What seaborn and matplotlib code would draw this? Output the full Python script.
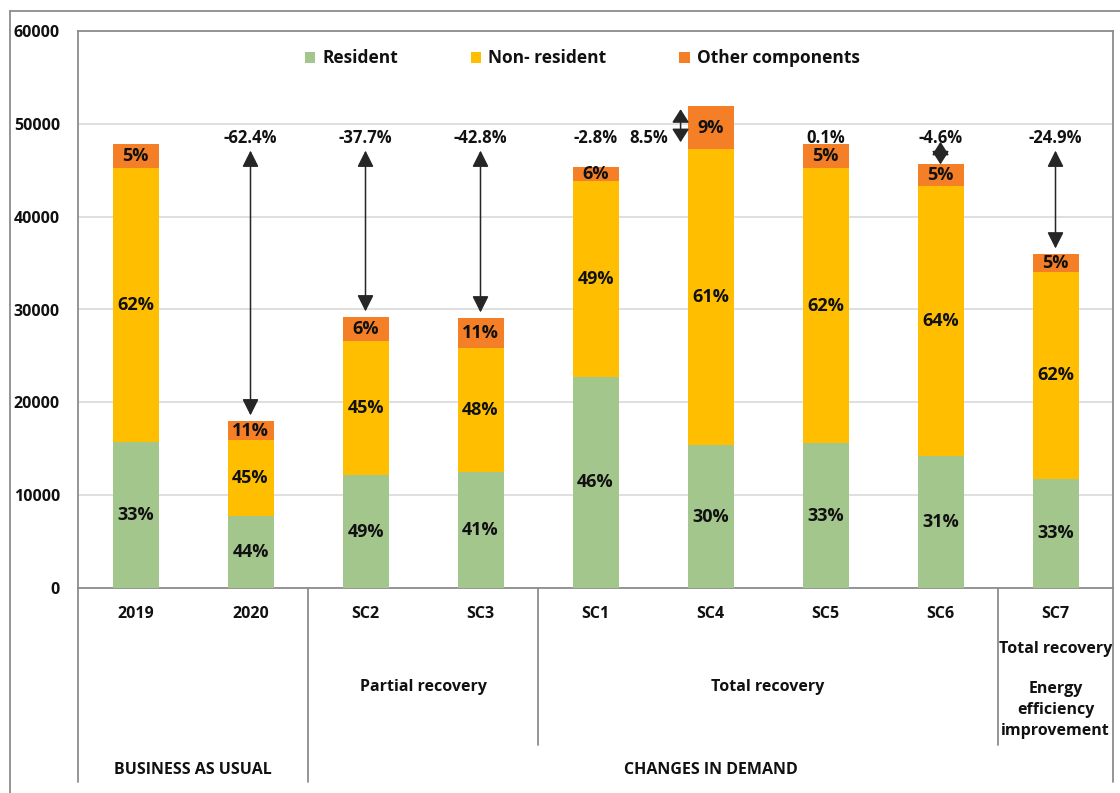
import matplotlib
matplotlib.use("Agg")
import matplotlib.pyplot as plt
import matplotlib.transforms as mtransforms
from matplotlib.patches import Patch
from matplotlib.lines import Line2D
import numpy as np
import pandas as pd
import seaborn as sns

# ---------------- data ----------------
categories = ['2019', '2020', 'SC2', 'SC3', 'SC1', 'SC4', 'SC5', 'SC6', 'SC7']
resident = [15760, 7790, 12170, 12530, 22760, 15400, 15580, 14250, 11770]
non_resident = [29510, 8150, 14430, 13350, 21110, 31880, 29690, 29080, 22300]
other = [2550, 2050, 2590, 3200, 1510, 4600, 2580, 2300, 1900]

res_pct = ['33%', '44%', '49%', '41%', '46%', '30%', '33%', '31%', '33%']
nonres_pct = ['62%', '45%', '45%', '48%', '49%', '61%', '62%', '64%', '62%']
other_pct = ['5%', '11%', '6%', '11%', '6%', '9%', '5%', '5%', '5%']

change_labels = ['', '-62.4%', '-37.7%', '-42.8%', '-2.8%', '8.5%', '0.1%', '-4.6%', '-24.9%']
arrow_kind = ['none', 'long', 'long', 'long', 'none', 'side', 'none', 'short', 'long']

series_names = ['Resident', 'Non- resident', 'Other components']
yticks = [0, 10000, 20000, 30000, 40000, 50000, 60000]

level1_groups = [('Partial recovery', 2, 3), ('Total recovery', 4, 7)]
level2_groups = [('BUSINESS AS USUAL', 0, 1), ('CHANGES IN DEMAND', 2, 8)]

# ---------------- style ----------------
sns.set_theme(style='white')
plt.rcParams['font.family'] = ['Open Sans', 'DejaVu Sans']
plt.rcParams['font.weight'] = 'bold'

GREEN = '#A3C68C'
YELLOW = '#FFBF00'
ORANGE = '#F47F27'
GRID = '#D9D9D9'
FRAME = '#8C8C8C'
TXT = '#111111'
ARROW = '#262626'

df = pd.DataFrame({
    'category': categories,
    'resident': resident,
    'non_resident': non_resident,
    'other': other,
})
df['cum2'] = df['resident'] + df['non_resident']
df['total'] = df['cum2'] + df['other']

fig = plt.figure(figsize=(11.2, 7.93), dpi=100)
W, H = 1120, 793
ax = fig.add_axes([78 / W, 1 - 588 / H, (1113 - 78) / W, (588 - 31) / H])

bw = 0.4
sns.barplot(data=df, x='category', y='total', color=ORANGE, width=bw, saturation=1,
            errorbar=None, ax=ax, linewidth=0, zorder=3)
sns.barplot(data=df, x='category', y='cum2', color=YELLOW, width=bw, saturation=1,
            errorbar=None, ax=ax, linewidth=0, zorder=3)
sns.barplot(data=df, x='category', y='resident', color=GREEN, width=bw, saturation=1,
            errorbar=None, ax=ax, linewidth=0, zorder=3)

ax.set_xlim(-0.5, len(categories) - 0.5)
ax.set_ylim(0, 60000)
ax.set_yticks(yticks)
ax.set_yticklabels([str(v) for v in yticks], fontsize=11.5, fontweight='bold', color=TXT)
ax.yaxis.grid(True, color=GRID, lw=1.2, zorder=0)
ax.set_axisbelow(True)
ax.set_xlabel('')
ax.set_ylabel('')
ax.tick_params(axis='y', length=0, pad=13)
ax.tick_params(axis='x', length=0, pad=13)
ax.set_xticks(range(len(categories)))
ax.set_xticklabels(categories, fontsize=11.5, fontweight='bold', color=TXT)
for s in ax.spines.values():
    s.set_color(FRAME)
    s.set_linewidth(1.3)

# segment percentage labels
for i in range(len(categories)):
    r, c2, t = df['resident'][i], df['cum2'][i], df['total'][i]
    kw = dict(ha='center', va='center', fontsize=13, fontweight='bold', color=TXT, zorder=5)
    ax.text(i, r / 2, res_pct[i], **kw)
    ax.text(i, (r + c2) / 2, nonres_pct[i], **kw)
    ax.text(i, (c2 + t) / 2, other_pct[i], **kw)

# change annotations relative to 2019
ref = df['total'][0]
label_y = ref + 700
small_style = '<|-|>,head_length=0.55,head_width=0.35'
for i in range(1, len(categories)):
    t = df['total'][i]
    kind = arrow_kind[i]
    lx = i - 0.54 if kind == 'side' else i
    ax.text(lx, label_y, change_labels[i], ha='center', va='center', fontsize=12,
            fontweight='bold', color=TXT, zorder=6)
    if kind == 'long':
        lo, hi = t + 600, ref - 700
        ax.annotate('', xy=(i, lo), xytext=(i, hi),
                    arrowprops=dict(arrowstyle='<|-|>', color=ARROW, lw=1.1,
                                    mutation_scale=25, shrinkA=0, shrinkB=0), zorder=6)
    elif kind == 'side':
        ax.annotate('', xy=(i - 0.26, ref + 200), xytext=(i - 0.26, t - 300),
                    arrowprops=dict(arrowstyle=small_style, color=ARROW, lw=1.1,
                                    mutation_scale=15, shrinkA=0, shrinkB=0), zorder=6)
    elif kind == 'short':
        ax.annotate('', xy=(i, t), xytext=(i, ref + 250),
                    arrowprops=dict(arrowstyle=small_style, color=ARROW, lw=1.1,
                                    mutation_scale=15, shrinkA=0, shrinkB=0), zorder=6)

# legend
handles = [Patch(facecolor=c, edgecolor='none') for c in (GREEN, YELLOW, ORANGE)]
leg = ax.legend(handles, series_names, loc='upper center', bbox_to_anchor=(0.487, 0.995),
                ncol=3, frameon=False, fontsize=12.5, handlelength=0.6, handleheight=0.6,
                handletextpad=0.4, columnspacing=4.2)
for t in leg.get_texts():
    t.set_fontweight('bold')
    t.set_color(TXT)

# category group table below axis
trans = mtransforms.blended_transform_factory(ax.transData, ax.transAxes)
def fy(py):
    return (588 - py) / 557

line_kw = dict(color=FRAME, lw=1.3, transform=trans, clip_on=False)
for xb, bottom in [(-0.5, 782), (1.5, 782), (3.5, 745), (7.5, 745), (8.5, 782)]:
    ax.add_line(Line2D([xb, xb], [0, fy(bottom)], **line_kw))

gkw = dict(ha='center', va='center', fontsize=11.5, fontweight='bold', color=TXT,
           transform=trans, clip_on=False)
for name, a, b in level1_groups:
    ax.text((a + b) / 2, fy(687), name, **gkw)
for name, a, b in level2_groups:
    ax.text((a + b) / 2, fy(770), name, **gkw)
ax.text(8, fy(649), 'Total recovery', **gkw)
ax.text(8, fy(710), 'Energy\nefficiency\nimprovement', linespacing=1.45, **gkw)

# outer chart frame (left and top visible)
fig.add_artist(Line2D([10 / W, 10 / W], [0, 1 - 11 / H], color=FRAME, lw=1.3))
fig.add_artist(Line2D([10 / W, 1], [1 - 11 / H, 1 - 11 / H], color=FRAME, lw=1.3))

fig.savefig('out.png', dpi=100, facecolor='white')
